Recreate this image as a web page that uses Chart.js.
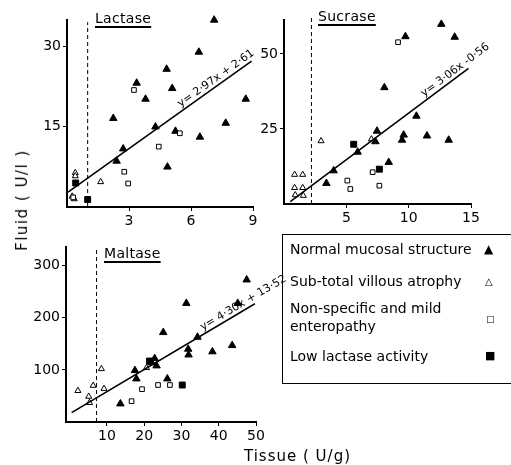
<!DOCTYPE html>
<html lang="en">
<head>
<meta charset="UTF-8">
<title>Disaccharidase activity: fluid vs tissue</title>
<script src="https://cdn.jsdelivr.net/npm/chart.js"></script>
<style>
  body { margin: 0; background: #fff; }
  #wrap { position: relative; width: 511px; height: 465px; overflow: hidden; font-family: 'DejaVu Sans', sans-serif; color: #000; }
  #wrap canvas { position: absolute; left: 0; top: 0; }
  .ttl { position: absolute; font-size: 14px; line-height: 14px; letter-spacing: 0.3px; text-decoration: underline; text-decoration-thickness: 1.5px; text-underline-offset: 3px; }
  .lg { position: absolute; font-size: 14px; line-height: 14px; white-space: nowrap; }
  .sym { position: absolute; line-height: 12px; }
</style>
</head>
<body>
<div id="wrap">
  <canvas id="lactase" width="511" height="465"></canvas>
  <canvas id="sucrase" width="511" height="465"></canvas>
  <canvas id="maltase" width="511" height="465"></canvas>

  <div class="ttl" style="left:95px;top:11px">Lactase</div>
  <div class="ttl" style="left:318px;top:9px">Sucrase</div>
  <div class="ttl" style="left:104px;top:246px">Maltase</div>

  <div style="position:absolute;left:282px;top:234px;width:240px;height:148px;border:1.5px solid #000"></div>
  <div class="lg" style="left:290px;top:242px">Normal mucosal structure</div>
  <div class="lg" style="left:290px;top:274px">Sub-total villous atrophy</div>
  <div class="lg" style="left:290px;top:301px">Non-specific and mild</div>
  <div class="lg" style="left:290px;top:319px">enteropathy</div>
  <div class="lg" style="left:290px;top:349px">Low lactase activity</div>
  <div class="sym" style="left:484px;top:243px;font-size:12px">▲</div>
  <div class="sym" style="left:485px;top:276px;font-size:10px">△</div>
  <div class="sym" style="left:486px;top:313px;font-size:9px">□</div>
  <div class="sym" style="left:485px;top:350px;font-size:11px">■</div>

  <div style="position:absolute;left:22px;top:200px;transform:translate(-50%,-50%) rotate(-90deg);font-size:15px;letter-spacing:1.5px;white-space:nowrap">Fluid ( U/l )</div>
  <div style="position:absolute;left:244px;top:447px;font-size:15px;letter-spacing:1px;white-space:nowrap">Tissue ( U/g)</div>
</div>

<script>
// Lactase panel
const lactaseNormal = [[7.12,35.0],[6.38,29.0],[4.82,25.8],[3.37,23.2],[5.09,22.2],[3.80,20.2],[8.65,20.2],[2.24,16.6],[4.28,15.0],[7.68,15.7],[5.25,14.2],[6.43,13.1],[2.72,10.9],[2.40,8.6],[4.86,7.5]];
const lactaseAtrophy = [[1.63,4.7],[0.4,6.4],[0.4,5.8],[0.25,2.0],[0.35,1.5]];
const lactaseNonSpecific = [[3.24,21.9],[5.46,13.8],[4.44,11.3],[2.77,6.6],[2.96,4.4],[0.3,1.8]];
const lactaseLow = [[0.42,4.5],[1.0,1.4]];
const lactaseFit = [[0.05,2.8],[8.93,27.3]];
const lactaseCut = [[1.0,0],[1.0,34.6]];
const lactaseXTicks = [3,6,9];
const lactaseYTicks = [15,30];

// Sucrase panel
const sucraseNormal = [[12.62,59.9],[9.74,55.8],[13.69,55.6],[8.05,38.8],[10.62,29.3],[7.46,24.3],[9.60,23.0],[11.47,22.7],[7.33,20.8],[9.47,21.3],[13.21,21.3],[5.91,17.3],[3.98,11.1],[8.40,13.9],[3.40,6.9]];
const sucraseAtrophy = [[2.97,21.0],[7.01,21.6],[0.85,9.8],[1.5,9.8],[0.85,5.4],[1.5,5.4],[0.9,3.0],[1.55,2.8]];
const sucraseNonSpecific = [[9.15,53.9],[5.08,7.8],[5.32,5.0],[7.11,10.6],[7.65,6.1]];
const sucraseLow = [[5.59,19.9],[7.65,11.6]];
const sucraseFit = [[0.5,0.8],[14.8,45.2]];
const sucraseCut = [[2.2,0],[2.2,62]];
const sucraseXTicks = [5,10,15];
const sucraseYTicks = [25,50];

// Maltase panel
const maltaseNormal = [[47.5,273],[45.1,228],[31.3,228],[25.1,172],[34.3,163],[43.6,147],[31.8,140],[38.3,135],[31.9,129],[22.8,122],[23.3,108],[22.0,114],[17.5,99],[17.9,83],[26.2,83],[13.6,35]];
const maltaseAtrophy = [[2.2,60],[5.1,49],[5.3,37],[6.3,70],[8.5,102],[9.2,64],[20.6,104]];
const maltaseNonSpecific = [[16.6,40],[19.4,63],[23.7,71],[26.9,71]];
const maltaseLow = [[21.4,117],[30.2,71]];
const maltaseFit = [[0.5,18],[49.7,227]];
const maltaseCut = [[7.2,0],[7.2,335]];
const maltaseXTicks = [10,20,30,40,50];
const maltaseYTicks = [100,200,300];

const FONT = 'DejaVu Sans';
const W = 511, H = 465, YAXIS_W = 40, XAXIS_H = 30;

const pts = arr => arr.map(p => ({x: p[0], y: p[1]}));

// draws the regression equation along its line
const eqPlugin = {
  id: 'eqLabel',
  afterDatasetsDraw(chart, args, opts) {
    if (!opts.text) return;
    const sx = chart.scales.x, sy = chart.scales.y, ln = opts.line;
    const x0 = sx.getPixelForValue(ln[0][0]), y0 = sy.getPixelForValue(ln[0][1]);
    const x1 = sx.getPixelForValue(ln[1][0]), y1 = sy.getPixelForValue(ln[1][1]);
    const t = (opts.at - ln[0][0]) / (ln[1][0] - ln[0][0]);
    const ctx = chart.ctx;
    ctx.save();
    ctx.translate(x0 + t * (x1 - x0), y0 + t * (y1 - y0));
    ctx.rotate(Math.atan2(y1 - y0, x1 - x0));
    ctx.font = '11px ' + FONT;
    ctx.fillStyle = '#000';
    ctx.textBaseline = 'bottom';
    ctx.fillText(opts.text, 0, -1);
    ctx.restore();
  }
};

function axis(min, max, ticks, isX) {
  return {
    type: 'linear', min: min, max: max,
    afterBuildTicks: s => { s.ticks = ticks.map(v => ({value: v})); },
    afterFit: s => { if (isX) s.height = XAXIS_H; else s.width = YAXIS_W; },
    grid: {display: true, drawOnChartArea: false, drawTicks: true, tickLength: 4, color: '#000', lineWidth: 1},
    border: {display: true, color: '#000', width: 2},
    ticks: {color: '#000', font: {family: FONT, size: 14}, padding: 2, maxRotation: 0, autoSkip: false}
  };
}

function panel(id, area, xr, yr, xTicks, yTicks, normal, atrophy, nonSpec, low, fit, cut, eqText, eqAt) {
  const common = {clip: false, showLine: false};
  new Chart(document.getElementById(id), {
    type: 'scatter',
    data: {
      datasets: [
        {data: pts(cut), showLine: true, borderColor: '#000', borderWidth: 1, borderDash: [4, 3], pointRadius: 0, clip: false},
        {data: pts(fit), showLine: true, borderColor: '#000', borderWidth: 1.6, pointRadius: 0, clip: false},
        Object.assign({data: pts(nonSpec), pointStyle: 'rect', pointRadius: 3.3, backgroundColor: '#fff', borderColor: '#000', borderWidth: 1}, common),
        Object.assign({data: pts(atrophy), pointStyle: 'triangle', pointRadius: 3.5, backgroundColor: '#fff', borderColor: '#000', borderWidth: 1}, common),
        Object.assign({data: pts(normal), pointStyle: 'triangle', pointRadius: 4.3, backgroundColor: '#000', borderColor: '#000', borderWidth: 1}, common),
        Object.assign({data: pts(low), pointStyle: 'rect', pointRadius: 4.2, backgroundColor: '#000', borderColor: '#000', borderWidth: 1}, common)
      ]
    },
    options: {
      responsive: false,
      animation: false,
      events: [],
      layout: {
        autoPadding: false,
        padding: {left: area.left - YAXIS_W, right: W - area.right, top: area.top, bottom: H - area.bottom - XAXIS_H}
      },
      plugins: {
        legend: {display: false},
        tooltip: {enabled: false},
        eqLabel: {text: eqText, line: fit, at: eqAt}
      },
      scales: {
        x: axis(xr[0], xr[1], xTicks, true),
        y: axis(yr[0], yr[1], yTicks, false)
      }
    },
    plugins: [eqPlugin]
  });
}

panel('lactase', {left: 67, right: 253, top: 20, bottom: 207}, [0, 9], [0, 35], lactaseXTicks, lactaseYTicks,
  lactaseNormal, lactaseAtrophy, lactaseNonSpecific, lactaseLow, lactaseFit, lactaseCut, 'y= 2·97x + 2·61', 5.6);
panel('sucrase', {left: 284, right: 471, top: 20, bottom: 204}, [0, 15], [0, 61.3], sucraseXTicks, sucraseYTicks,
  sucraseNormal, sucraseAtrophy, sucraseNonSpecific, sucraseLow, sucraseFit, sucraseCut, 'y= 3·06x -0·56', 11.4);
panel('maltase', {left: 66, right: 256, top: 247, bottom: 422}, [-1, 50], [0, 336], maltaseXTicks, maltaseYTicks,
  maltaseNormal, maltaseAtrophy, maltaseNonSpecific, maltaseLow, maltaseFit, maltaseCut, 'y= 4·30x + 13·52', 36.2);
</script>
</body>
</html>
